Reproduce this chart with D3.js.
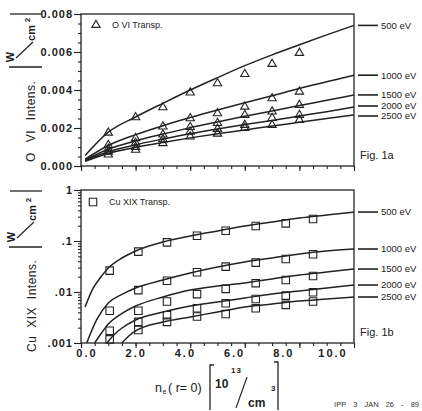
<!DOCTYPE html>
<html>
<head>
<meta charset="utf-8">
<script src="https://cdn.jsdelivr.net/npm/d3@7"></script>
<style>
  body { margin: 0; background: #fff; }
  svg { font-family: "Liberation Sans", Arial, sans-serif; }
  .axis path { display: none; }
  .axis line { stroke: #222; stroke-width: 1.1; }
  .axis text { fill: #222; font-weight: bold; font-size: 11px; letter-spacing: 1px; }
  .frame { fill: none; stroke: #222; stroke-width: 1.3; }
  .curve { fill: none; stroke: #222; stroke-width: 1.5; }
  .mark { fill: none; stroke: #222; stroke-width: 1.1; }
  .lbl { fill: #222; }
</style>
</head>
<body>
<div id="chart"></div>
<script>
// energy labels for the five model curves
const energies = ["500 eV", "1000 eV", "1500 eV", "2000 eV", "2500 eV"];

// Fig 1a: O VI model curves (same x for every curve)
const oviCurveX = [0.15, 1, 2, 3, 4, 5, 6, 7, 8, 9, 10];
const oviCurveY = [
  [0.00055, 0.00178, 0.00258, 0.00330, 0.00400, 0.00465, 0.00528, 0.00585, 0.00638, 0.00690, 0.00740],
  [0.00036, 0.00108, 0.00165, 0.00212, 0.00255, 0.00295, 0.00333, 0.00370, 0.00408, 0.00443, 0.00478],
  [0.00031, 0.00088, 0.00132, 0.00168, 0.00202, 0.00232, 0.00262, 0.00290, 0.00318, 0.00346, 0.00374],
  [0.00028, 0.00075, 0.00112, 0.00142, 0.00170, 0.00195, 0.00218, 0.00240, 0.00263, 0.00286, 0.00310],
  [0.00025, 0.00066, 0.00098, 0.00124, 0.00148, 0.00170, 0.00190, 0.00210, 0.00230, 0.00250, 0.00269]
];
// Fig 1a: O VI transport points
const oviPointX = [1, 2, 3, 4, 5, 6, 7, 8];
const oviPointY = [
  [0.00175, 0.00256, 0.00309, 0.00386, 0.00435, 0.00484, 0.00537, 0.00595],
  [0.00110, 0.00146, 0.00207, 0.00251, 0.00277, 0.00312, 0.00356, 0.00391],
  [0.00090, 0.00122, 0.00165, 0.00205, 0.00226, 0.00268, 0.00286, 0.00321],
  [0.00075, 0.00100, 0.00140, 0.00180, 0.00195, 0.00216, 0.00252, 0.00268],
  [0.00060, 0.00085, 0.00120, 0.00155, 0.00170, 0.00200, 0.00216, 0.00242]
];

// Fig 1b: Cu XIX model curves (each curve has its own x, clipped at .001)
const cuCurveX = [
  [0.15, 0.45, 0.7, 1, 1.5, 2, 3, 4, 5, 6, 7, 8, 9, 10],
  [0.21, 0.57, 1, 1.5, 2, 3, 4, 5, 6, 7, 8, 9, 10],
  [0.5, 0.75, 1, 1.5, 2, 3, 4, 5, 6, 7, 8, 9, 10],
  [0.95, 1.2, 1.5, 2, 3, 4, 5, 6, 7, 8, 9, 10],
  [1.5, 1.75, 2, 3, 4, 5, 6, 7, 8, 9, 10]
];
const cuCurveY = [
  [0.00508, 0.0120, 0.0188, 0.0296, 0.0464, 0.0637, 0.0955, 0.125, 0.157, 0.197, 0.236, 0.282, 0.323, 0.370],
  [0.001, 0.00283, 0.0061, 0.0090, 0.0120, 0.0172, 0.0236, 0.0309, 0.0388, 0.0464, 0.0556, 0.0637, 0.0697],
  [0.001, 0.00157, 0.00236, 0.0038, 0.00531, 0.00798, 0.0109, 0.0131, 0.0150, 0.0180, 0.0216, 0.0247, 0.0282],
  [0.001, 0.00144, 0.00197, 0.00283, 0.00405, 0.00531, 0.00637, 0.00763, 0.00914, 0.0105, 0.0120, 0.0137],
  [0.001, 0.00137, 0.00172, 0.00258, 0.00324, 0.00405, 0.00508, 0.00582, 0.00667, 0.00729, 0.00798]
];
// Fig 1b: Cu XIX transport points (null = below the axis)
const cuPointX = [1.05, 2.1, 3.15, 4.25, 5.3, 6.4, 7.5, 8.5];
const cuPointY = [
  [0.0262, 0.0619, 0.094, 0.127, 0.159, 0.197, 0.222, 0.270],
  [0.0043, 0.0109, 0.0166, 0.0244, 0.0314, 0.0376, 0.0443, 0.0551],
  [0.00174, 0.0043, 0.0065, 0.0091, 0.0115, 0.0149, 0.0172, 0.0206],
  [0.00118, 0.0026, 0.0035, 0.0048, 0.0060, 0.0073, 0.0085, 0.0099],
  [null, 0.0018, 0.0026, 0.0033, 0.0037, 0.0048, 0.0056, 0.0065]
];

// tick values
const xLabelTicks = [0, 2, 4, 6, 8, 10];
const oviTicks = [0, 0.002, 0.004, 0.006, 0.008];
const cuTicks = [0.001, 0.01, 0.1, 1];

const width = 422, height = 411;
const svg = d3.select("#chart").append("svg")
  .attr("width", width).attr("height", height);

const x = d3.scaleLinear().domain([0, 10]).range([81, 354]);
// the printed numbers under the lower panel sit a bit tighter than the ticks
const xLabel = d3.scaleLinear().domain([0, 10]).range([87, 333]);
const yTop = d3.scaleLinear().domain([0, 0.008]).range([166, 14]);
const yBot = d3.scaleLog().domain([0.001, 1]).range([343, 190]);

const line = (ys, xs, yScale) => d3.line()
  .defined(d => d[1] != null)
  .x(d => x(d[0])).y(d => yScale(d[1]))
  .curve(d3.curveMonotoneX)(xs.map((v, i) => [v, ys[i]]));

// spread right-hand labels so they don't collide
function spread(ys, gap) {
  const out = ys.slice();
  for (let k = 0; k < 20; k++) {
    for (let i = 1; i < out.length; i++) {
      const d = out[i] - out[i - 1];
      if (d < gap) {
        const s = (gap - d) / 2;
        out[i - 1] -= s;
        out[i] += s;
      }
    }
  }
  return out;
}

function drawPanel(cfg) {
  const g = svg.append("g");
  const [y0, y1] = cfg.y.range();

  g.append("rect").attr("class", "frame")
    .attr("x", 81).attr("y", y1).attr("width", 273).attr("height", y0 - y1);

  // x ticks (minor every 0.5, major every 2)
  g.append("g").attr("class", "axis")
    .attr("transform", `translate(0,${y0})`)
    .call(d3.axisBottom(x).tickValues(d3.range(0, 10.01, 0.5)).tickSize(3).tickFormat(""));
  g.append("g").attr("class", "axis")
    .attr("transform", `translate(0,${y0})`)
    .call(d3.axisBottom(x).tickValues(xLabelTicks).tickSize(5).tickFormat(""));

  // y ticks
  g.append("g").attr("class", "axis")
    .attr("transform", "translate(81,0)")
    .call(d3.axisLeft(cfg.y).tickValues(cfg.minorTicks).tickSize(3).tickFormat(""));
  g.append("g").attr("class", "axis")
    .attr("transform", "translate(81,0)")
    .call(d3.axisLeft(cfg.y).tickValues(cfg.ticks).tickSize(7).tickPadding(1).tickFormat(cfg.fmt));

  // model curves
  cfg.curveY.forEach((ys, i) => {
    const xs = Array.isArray(cfg.curveX[0]) ? cfg.curveX[i] : cfg.curveX;
    g.append("path").attr("class", "curve").attr("d", line(ys, xs, cfg.y));
  });

  // transport points
  const sym = d3.symbol().type(cfg.symbol).size(cfg.symSize);
  cfg.pointY.forEach(ys => {
    g.selectAll(null)
      .data(cfg.pointX.map((v, i) => [v, ys[i]]).filter(d => d[1] != null))
      .join("path").attr("class", "mark")
      .attr("d", sym)
      .attr("transform", d => `translate(${x(d[0])},${cfg.y(d[1])})`);
  });

  // energy labels on the right
  const ends = cfg.curveY.map(ys => cfg.y(ys[ys.length - 1]));
  const ly = spread(ends, 10);
  energies.forEach((e, i) => {
    g.append("line").attr("x1", 358).attr("x2", 378)
      .attr("y1", ly[i]).attr("y2", ly[i])
      .attr("stroke", "#222").attr("stroke-width", 1.6);
    g.append("text").attr("class", "lbl")
      .attr("x", 381).attr("y", ly[i]).attr("dy", "0.35em")
      .style("font-size", "9.5px").text(e);
  });

  // legend
  g.append("path").attr("class", "mark")
    .attr("d", sym)
    .attr("transform", `translate(${cfg.legend[0]},${cfg.legend[1]})`);
  g.append("text").attr("class", "lbl")
    .attr("x", cfg.legend[0] + 16).attr("y", cfg.legend[1] + 3)
    .style("font-size", "9px").text(cfg.legendText);

  g.append("text").attr("class", "lbl")
    .attr("x", 360).attr("y", cfg.figY)
    .style("font-size", "11px").text(cfg.fig);

  return g;
}

drawPanel({
  y: yTop, ticks: oviTicks, minorTicks: d3.range(0, 0.00801, 0.0005),
  fmt: d3.format(".3f"),
  curveX: oviCurveX, curveY: oviCurveY, pointX: oviPointX, pointY: oviPointY,
  symbol: d3.symbolTriangle, symSize: 30,
  legend: [96, 25], legendText: "O VI Transp.",
  fig: "Fig. 1a", figY: 159
});

const cuMinor = [];
[0.001, 0.01, 0.1].forEach(d => d3.range(2, 10).forEach(k => cuMinor.push(d * k)));
drawPanel({
  y: yBot, ticks: cuTicks, minorTicks: cuMinor,
  fmt: d => d >= 1 ? "1" : String(d).replace(/^0/, ""),
  curveX: cuCurveX, curveY: cuCurveY, pointX: cuPointX, pointY: cuPointY,
  symbol: d3.symbolSquare, symSize: 56,
  legend: [93, 202], legendText: "Cu XIX Transp.",
  fig: "Fig. 1b", figY: 336
});

// x tick numbers under the lower panel
svg.append("g").selectAll("text")
  .data(xLabelTicks).join("text")
  .attr("x", d => xLabel(d)).attr("y", 357)
  .attr("text-anchor", "middle")
  .style("font-size", "11px").style("font-weight", "bold").style("letter-spacing", "2px")
  .attr("fill", "#222")
  .text(d => d3.format(".1f")(d));

// y axis titles with |W / cm^2| unit
function yTitle(label, start, base, ws, unit) {
  const t = svg.append("g").attr("fill", "#222");
  t.append("text")
    .attr("transform", `translate(${base},${start}) rotate(-90)`)
    .style("font-size", "12px").style("letter-spacing", "0.5px").style("word-spacing", ws + "px")
    .text(label);
  const u = unit;
  t.append("line").attr("x1", 9).attr("x2", 42).attr("y1", u.lo).attr("y2", u.lo)
    .attr("stroke", "#222").attr("stroke-width", 1.3);
  t.append("line").attr("x1", 10).attr("x2", 42).attr("y1", u.hi).attr("y2", u.hi)
    .attr("stroke", "#222").attr("stroke-width", 1.3);
  t.append("text")
    .attr("transform", `translate(${u.wx},${u.wy}) rotate(-90)`)
    .attr("text-anchor", "middle").style("font-size", "11px").style("font-weight", "bold")
    .text("W");
  t.append("line").attr("x1", u.wx + 2).attr("y1", u.wy + 1)
    .attr("x2", u.wx + 19).attr("y2", u.wy - 15)
    .attr("stroke", "#222").attr("stroke-width", 1.2);
  t.append("text")
    .attr("transform", `translate(${base},${u.wy - 24}) rotate(-90)`)
    .attr("text-anchor", "middle").style("font-size", "11px").style("font-weight", "bold")
    .text("cm");
  t.append("text")
    .attr("transform", `translate(${base - 5},${u.wy - 37}) rotate(-90)`)
    .attr("text-anchor", "middle").style("font-size", "8px").style("font-weight", "bold")
    .text("2");
}
yTitle("O VI Intens.", 162, 35, 6, { lo: 67, hi: 14, wx: 14, wy: 57 });
yTitle("Cu XIX Intens.", 352, 36, 4, { lo: 247, hi: 191, wx: 15, wy: 237 });

// x axis title  n_e(r=0) [10^13 / cm^3]
const xt = svg.append("g").attr("fill", "#222");
xt.append("text").attr("x", 155).attr("y", 392).style("font-size", "12.5px")
  .text("n");
xt.append("text").attr("x", 162.5).attr("y", 394).style("font-size", "7px")
  .text("e");
xt.append("text").attr("x", 168).attr("y", 392).style("font-size", "12.5px")
  .text("( r= 0)");
xt.append("path").attr("d", "M214,365 H210 V410").attr("fill", "none")
  .attr("stroke", "#222").attr("stroke-width", 1.3);
xt.append("path").attr("d", "M274,362 H278 V410").attr("fill", "none")
  .attr("stroke", "#222").attr("stroke-width", 1.3);
xt.append("text").attr("x", 215).attr("y", 388).style("font-size", "12px").style("font-weight", "bold")
  .text("10");
xt.append("text").attr("x", 231).attr("y", 373).style("font-size", "8px").style("font-weight", "bold")
  .style("letter-spacing", "1px").text("13");
xt.append("line").attr("x1", 236).attr("y1", 408).attr("x2", 247).attr("y2", 377)
  .attr("stroke", "#222").attr("stroke-width", 1.1);
xt.append("text").attr("x", 248).attr("y", 407).style("font-size", "12px").style("font-weight", "bold")
  .text("cm");
xt.append("text").attr("x", 271).attr("y", 391).style("font-size", "8px").style("font-weight", "bold")
  .text("3");

// footer stamp
svg.append("text").attr("x", 419).attr("y", 407).attr("fill", "#333")
  .attr("text-anchor", "end")
  .style("font-size", "7.5px").style("word-spacing", "5px")
  .text("IPP 3 JAN 26 - 89");
</script>
</body>
</html>
